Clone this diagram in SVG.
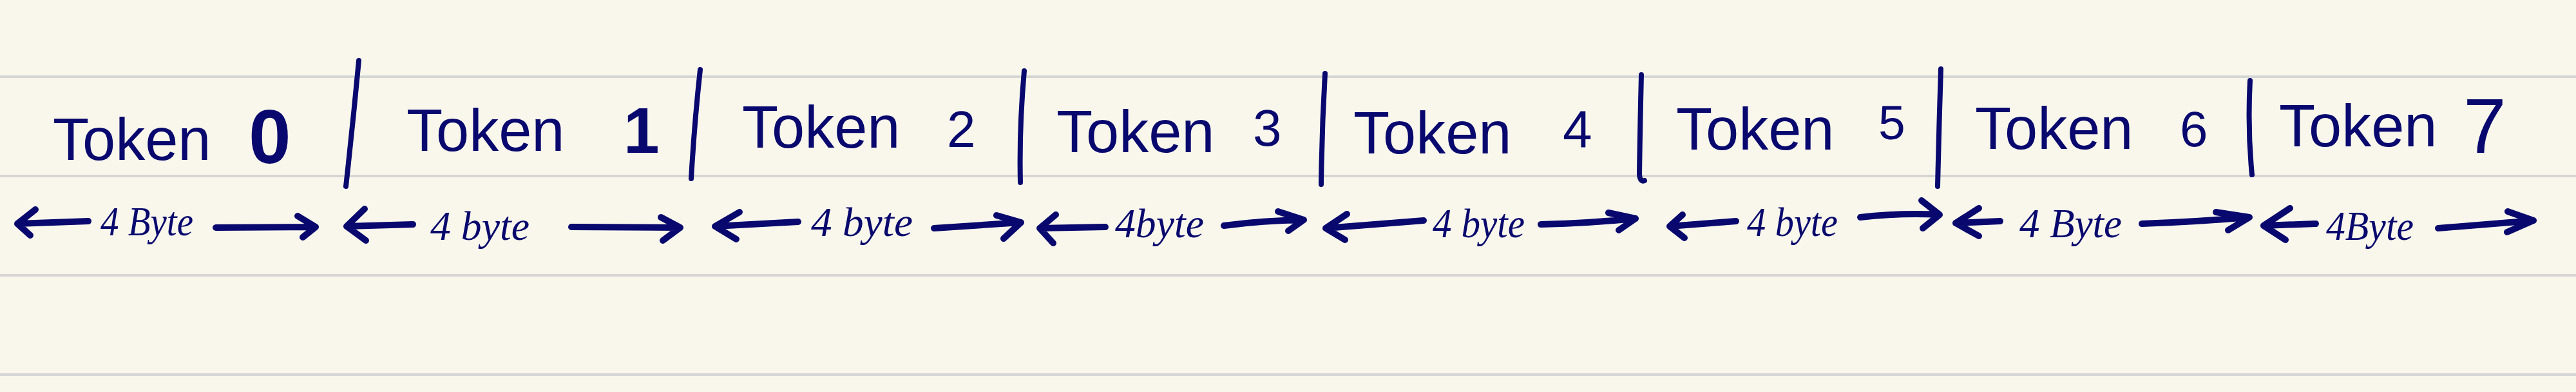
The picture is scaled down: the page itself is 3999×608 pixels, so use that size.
<svg xmlns="http://www.w3.org/2000/svg" width="3999" height="608" viewBox="0 0 3999 608">
  <style>
    .rule { stroke: #d5d5d5; stroke-width: 4; fill: none; }
    .ink { stroke: #08086e; fill: none; stroke-linecap: round; stroke-linejoin: round; }
    .div { stroke-width: 8; }
    .arr { stroke-width: 10; }
    .tok { font-family: "Liberation Sans", Arial, sans-serif; font-size: 92px; fill: #08086e; }
    .dig { font-weight: normal; }
    .bold { font-weight: bold; }
    .lbl { font-family: "Liberation Serif", "Times New Roman", serif; font-style: italic; font-size: 64px; fill: #08086e; }
  </style>
  <rect x="0" y="0" width="3999" height="608" fill="#f9f7ec"/>
  <g id="paper-lines">
    <line class="rule" x1="0" y1="119" x2="3999" y2="119"/>
    <line class="rule" x1="0" y1="273" x2="3999" y2="273"/>
    <line class="rule" x1="0" y1="427" x2="3999" y2="427"/>
    <line class="rule" x1="0" y1="581" x2="3999" y2="581"/>
  </g>

  <g id="token-0"><text class="tok" y="248" font-size="92"><tspan x="82">Token</tspan> <tspan class="dig bold" x="386" y="253" font-size="118">0</tspan></text></g>
  <g id="token-1"><text class="tok" y="234" font-size="91"><tspan x="631">Token</tspan> <tspan class="dig bold" x="968" y="237" font-size="100">1</tspan></text></g>
  <g id="token-2"><text class="tok" y="229" font-size="88"><tspan x="1152">Token</tspan> <tspan class="dig" x="1470" y="228" font-size="80">2</tspan></text></g>
  <g id="token-3"><text class="tok" y="236" font-size="94"><tspan x="1640">Token</tspan> <tspan class="dig" x="1945" y="226" font-size="80">3</tspan></text></g>
  <g id="token-4"><text class="tok" y="238" font-size="94"><tspan x="2101">Token</tspan> <tspan class="dig" x="2426" y="229" font-size="82">4</tspan></text></g>
  <g id="token-5"><text class="tok" y="232" font-size="86"><tspan x="2602">Token</tspan> <tspan class="dig" x="2916" y="216" font-size="75">5</tspan></text></g>
  <g id="token-6"><text class="tok" y="231" font-size="92"><tspan x="3066">Token</tspan> <tspan class="dig" x="3384" y="227" font-size="78">6</tspan></text></g>
  <g id="token-7"><text class="tok" y="227" font-size="85"><tspan x="3538">Token</tspan> <tspan class="dig" x="3824" y="237" font-size="120">7</tspan></text></g>

  <g id="dividers">
    <path class="ink div" d="M557 94 Q548 190 537 289"/>
    <path class="ink div" d="M1087 108 Q1078 190 1073 277"/>
    <path class="ink div" d="M1590 110 Q1582 200 1584 283"/>
    <path class="ink div" d="M2057 114 Q2052 200 2051 286"/>
    <path class="ink div" d="M2548 116 Q2546 200 2545 270 Q2546 283 2553 280"/>
    <path class="ink div" d="M3013 107 Q3010 200 3008 289"/>
    <path class="ink div" d="M3493 125 Q3489 200 3496 271"/>
  </g>

  <g id="connectors">
    <!-- span 0 -->
    <path class="ink arr" d="M27 347 L137 343 M55 325 L27 347 L47 365"/>
    <path class="ink arr" d="M335 353 L490 352 M462 335 L490 352 L470 368"/>
    <!-- span 1 -->
    <path class="ink arr" d="M538 351 L641 348 M566 324 L538 351 L568 373"/>
    <path class="ink arr" d="M887 352 L1056 353 M1026 337 L1056 353 L1029 373"/>
    <!-- span 2 -->
    <path class="ink arr" d="M1110 351 L1239 344 M1148 329 L1110 351 L1143 371"/>
    <path class="ink arr" d="M1450 354 L1585 345 M1547 334 L1585 345 L1558 370"/>
    <!-- span 3 -->
    <path class="ink arr" d="M1614 354 L1716 352 M1639 333 L1614 354 L1635 377"/>
    <path class="ink arr" d="M1900 350 Q1960 342 2024 341 M1984 328 L2024 341 L2000 358"/>
    <!-- span 4 -->
    <path class="ink arr" d="M2058 354 L2210 342 M2091 332 L2058 354 L2088 372"/>
    <path class="ink arr" d="M2392 348 Q2470 346 2539 339 M2497 330 L2539 339 L2513 357"/>
    <!-- span 5 -->
    <path class="ink arr" d="M2592 351 L2695 343 M2612 333 L2592 351 L2615 369"/>
    <path class="ink arr" d="M2888 337 Q2950 330 3011 333 M2983 311 L3011 333 L2985 354"/>
    <!-- span 6 -->
    <path class="ink arr" d="M3036 346 L3105 343 M3072 323 L3036 346 L3072 366"/>
    <path class="ink arr" d="M3325 347 Q3410 344 3492 337 M3440 329 L3492 337 L3459 357"/>
    <!-- span 7 -->
    <path class="ink arr" d="M3514 350 L3595 347 M3555 323 L3514 350 L3548 372"/>
    <path class="ink arr" d="M3785 354 Q3860 348 3933 342 M3893 328 L3933 342 L3892 360"/>
  </g>

  <g id="byte-labels">
    <text class="lbl" x="156" y="365" textLength="144" lengthAdjust="spacingAndGlyphs">4 Byte</text>
    <text class="lbl" x="668" y="372" textLength="154" lengthAdjust="spacingAndGlyphs">4 byte</text>
    <text class="lbl" x="1259" y="366" textLength="158" lengthAdjust="spacingAndGlyphs">4 byte</text>
    <text class="lbl" x="1731" y="368" textLength="138" lengthAdjust="spacingAndGlyphs">4byte</text>
    <text class="lbl" x="2224" y="368" textLength="143" lengthAdjust="spacingAndGlyphs">4 byte</text>
    <text class="lbl" x="2712" y="366" textLength="141" lengthAdjust="spacingAndGlyphs">4 byte</text>
    <text class="lbl" x="3135" y="368" textLength="159" lengthAdjust="spacingAndGlyphs">4 Byte</text>
    <text class="lbl" x="3611" y="372" textLength="136" lengthAdjust="spacingAndGlyphs">4Byte</text>
  </g>
</svg>
